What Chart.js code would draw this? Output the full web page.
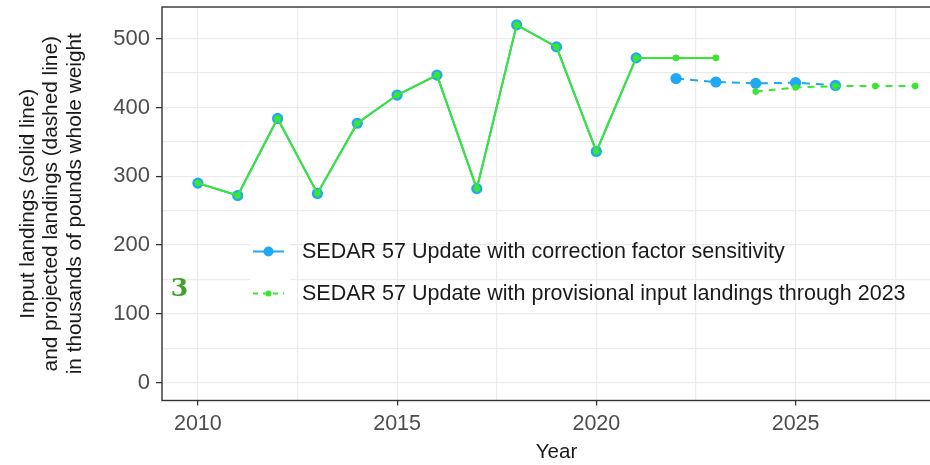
<!DOCTYPE html>
<html>
<head>
<meta charset="utf-8">
<script src="https://cdn.jsdelivr.net/npm/chart.js@4/dist/chart.umd.min.js"></script>
<style>
html,body{margin:0;padding:0;background:#fff;overflow:hidden;width:930px;height:465px}
#wrap{width:960px;height:465px}
</style>
</head>
<body>
<div id="wrap"><canvas id="c" width="960" height="465"></canvas></div>
<script>
// ---- data ----
const histYears = [2010, 2011, 2012, 2013, 2014, 2015, 2016, 2017, 2018, 2019, 2020, 2021];
const histLandings = [290, 272, 384, 275, 377, 418, 447, 282, 520, 488, 336, 472];
const provYears = [2022, 2023];
const provLandings = [472, 472];
const sensProjYears = [2022, 2023, 2024, 2025, 2026];
const sensProjLandings = [442, 437, 435, 436, 432];
const provProjYears = [2024, 2025, 2026, 2027, 2028];
const provProjLandings = [423, 429, 431, 431, 431];
const seriesLabels = [
  'SEDAR 57 Update with correction factor sensitivity',
  'SEDAR 57 Update with provisional input landings through 2023'
];
const yTicks = [0, 50, 100, 150, 200, 250, 300, 350, 400, 450, 500];
const xTicks = [2010, 2012.5, 2015, 2017.5, 2020, 2022.5, 2025, 2027.5];
const yTitle = ['Input landings (solid line)', 'and projected landings (dashed line)', 'in thousands of pounds whole weight'];
const xTitle = 'Year';
const panelTag = '3';

// ---- styles ----
const BLUE = '#1fa9f2';
const GREEN = '#3ae630';
const FAMILY = "'Liberation Sans', Arial, sans-serif";

const pts = (xs, ys) => xs.map((x, i) => ({x: x, y: ys[i]}));
const greenHist = pts(histYears.concat(provYears), histLandings.concat(provLandings));
const greenProj = pts(provProjYears, provProjLandings);
const blueHist = pts(histYears, histLandings);
const blueProj = pts(sensProjYears, sensProjLandings);

const noPad = s => { s.paddingTop = 0; s.paddingBottom = 0; s.paddingLeft = 0; s.paddingRight = 0; };

const decorPlugin = {
  id: 'decor',
  afterDraw(chart) {
    const {ctx, chartArea: a} = chart;
    ctx.save();
    // panel border
    ctx.strokeStyle = '#333333';
    ctx.lineWidth = 1.4;
    ctx.strokeRect(a.left, a.top, a.right - a.left, a.bottom - a.top);

    // legend
    const keyX0 = 250, keyX1 = 290, textX = 302;
    const rows = [251.5, 293.5];
    ctx.fillStyle = '#ffffff';
    ctx.fillRect(keyX0, 233, keyX1 - keyX0, 78);
    // key 1
    ctx.strokeStyle = BLUE; ctx.lineWidth = 2; ctx.setLineDash([]);
    ctx.beginPath(); ctx.moveTo(253, rows[0]); ctx.lineTo(284, rows[0]); ctx.stroke();
    ctx.fillStyle = BLUE;
    ctx.beginPath(); ctx.arc(268.5, rows[0], 5, 0, Math.PI * 2); ctx.fill();
    // key 2
    ctx.strokeStyle = GREEN; ctx.lineWidth = 2; ctx.setLineDash([5, 5]);
    ctx.beginPath(); ctx.moveTo(253, rows[1]); ctx.lineTo(284, rows[1]); ctx.stroke();
    ctx.setLineDash([]);
    ctx.fillStyle = GREEN;
    ctx.beginPath(); ctx.arc(268.5, rows[1], 3, 0, Math.PI * 2); ctx.fill();

    ctx.fillStyle = '#1a1a1a';
    ctx.font = '21.5px ' + FAMILY;
    ctx.textAlign = 'left';
    ctx.textBaseline = 'middle';
    ctx.fillText(seriesLabels[0], textX, rows[0] + 1);
    ctx.fillText(seriesLabels[1], textX, rows[1] + 1);

    // panel tag
    ctx.fillStyle = '#43a02e';
    ctx.font = 'bold 25px "DejaVu Serif", serif';
    ctx.textAlign = 'center';
    ctx.textBaseline = 'middle';
    ctx.fillText(panelTag, 179.5, 289);
    ctx.restore();
  }
};

new Chart(document.getElementById('c'), {
  type: 'line',
  data: {
    datasets: [
      {label: seriesLabels[1], data: greenHist, borderColor: GREEN, backgroundColor: GREEN,
       borderWidth: 2, pointRadius: 3.3, pointBorderWidth: 0, tension: 0, order: 1},
      {label: seriesLabels[1] + ' (projection)', data: greenProj, borderColor: GREEN, backgroundColor: GREEN,
       borderWidth: 2, borderDash: [7, 6], pointRadius: 3.3, pointBorderWidth: 0, tension: 0, order: 2},
      {label: seriesLabels[0], data: blueHist, borderColor: BLUE, backgroundColor: BLUE,
       borderWidth: 2, pointRadius: 5.6, pointBorderWidth: 0, tension: 0, order: 3},
      {label: seriesLabels[0] + ' (projection)', data: blueProj, borderColor: BLUE, backgroundColor: BLUE,
       borderWidth: 2, borderDash: [8, 6], pointRadius: 5.6, pointBorderWidth: 0, tension: 0, order: 4}
    ]
  },
  options: {
    responsive: false,
    animation: false,
    layout: {padding: {top: 7, right: 9, left: 0, bottom: 0}},
    plugins: {legend: {display: false}, tooltip: {enabled: false}},
    scales: {
      x: {
        type: 'linear', min: 2009.1, max: 2028.9,
        afterBuildTicks: s => { s.ticks = xTicks.map(v => ({value: v})); },
        afterFit: s => { s.height = 64.5; noPad(s); },
        border: {display: false},
        grid: {
          color: '#ebebeb', lineWidth: 1.2, tickLength: 5, tickWidth: 1.3,
          tickColor: c => (c.tick && c.tick.value % 5 === 0) ? '#333333' : 'rgba(0,0,0,0)'
        },
        ticks: {
          autoSkip: false, maxRotation: 0, padding: 6, color: '#4d4d4d',
          font: {size: 21.5, family: FAMILY},
          callback: v => (v % 5 === 0 ? String(v) : '')
        },
        title: {display: true, text: xTitle, color: '#1a1a1a',
                font: {size: 20.5, family: FAMILY, lineHeight: 1.2}, padding: {top: 0, bottom: 0}}
      },
      y: {
        type: 'linear', min: -26, max: 546,
        afterBuildTicks: s => { s.ticks = yTicks.map(v => ({value: v})); },
        afterFit: s => { s.width = 162; noPad(s); },
        border: {display: false},
        grid: {
          color: '#ebebeb', lineWidth: 1.2, tickLength: 6, tickWidth: 1.3,
          tickColor: c => (c.tick && c.tick.value % 100 === 0) ? '#333333' : 'rgba(0,0,0,0)'
        },
        ticks: {
          autoSkip: false, padding: 6, color: '#4d4d4d',
          font: {size: 22, family: FAMILY},
          callback: v => (v % 100 === 0 ? String(v) : '')
        },
        title: {display: true, text: yTitle, color: '#1a1a1a',
                font: {size: 20.8, family: FAMILY, lineHeight: '23.5px'}, padding: {top: 16.5, bottom: 0}}
      }
    }
  },
  plugins: [decorPlugin]
});
</script>
</body>
</html>
